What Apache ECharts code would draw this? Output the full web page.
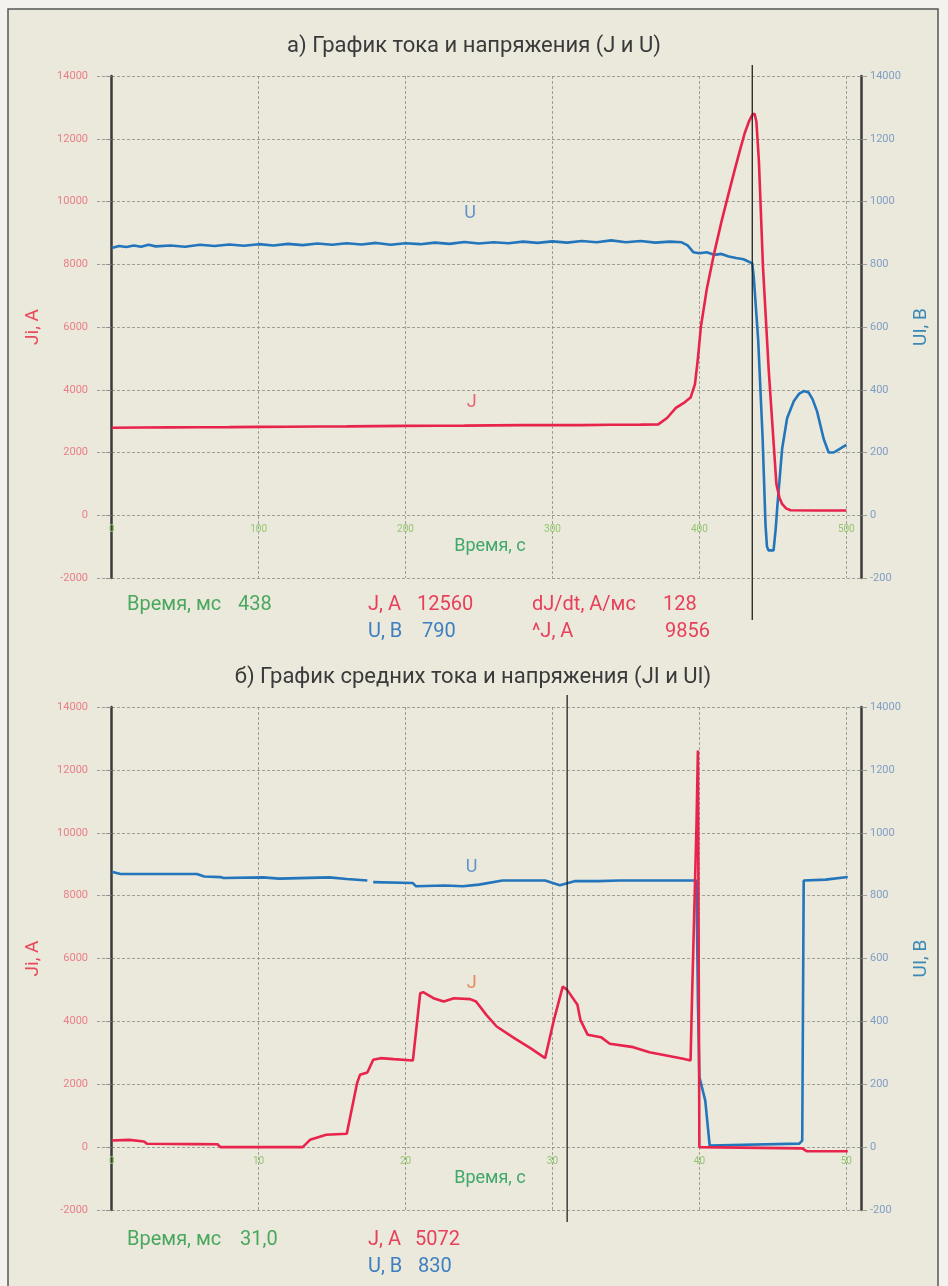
<!DOCTYPE html>
<html><head><meta charset="utf-8">
<script src="https://cdn.jsdelivr.net/npm/echarts@6/dist/echarts.min.js"></script>
<style>html,body{margin:0;padding:0;background:#f3f2ee;}#c{width:948px;height:1286px;}</style>
</head><body><div id="c"></div>
<script>
// ---------- DATA ----------
const topXTicks = [0, 100, 200, 300, 400, 500];
const bottomXTicks = [0, 10, 20, 30, 40, 50];
const leftTickValues = [-2000, 0, 2000, 4000, 6000, 8000, 10000, 12000, 14000];
const leftTickLabels = ['-2000', '0', '2000', '4000', '6000', '8000', '10000', '12000', '14000'];
const rightTickValues = [-200, 0, 200, 400, 600, 800, 1000, 1200, 1400];
const rightTickLabels = ['-200', '0', '200', '400', '600', '800', '1000', '1200', '14000'];

// Top chart: current J (A) and voltage U (V) vs time
const topJ = [[0,2790],[20,2795],[40,2800],[60,2805],[80,2810],[100,2818],[120,2822],[140,2828],[160,2833],[180,2842],[200,2848],[220,2853],[240,2858],[260,2866],[280,2872],[300,2878],[320,2872],[340,2884],[360,2888],[372,2895],[378,3100],[384,3420],[390,3600],[394,3750],[397,4180],[399,5000],[401,6000],[405,7200],[410,8340],[415,9350],[419,10090],[424,11000],[428,11700],[431,12200],[434,12580],[436,12760],[437.5,12800],[438.8,12550],[440.5,11300],[443.3,7900],[447.2,4620],[452.4,1000],[454.5,560],[456.3,360],[459,220],[462,160],[480,150],[500,150]];
const topU = [[0,852],[5,858],[10,855],[15,860],[20,856],[25,862],[30,857],[40,860],[50,856],[60,862],[70,858],[80,863],[90,859],[100,864],[110,860],[120,865],[130,861],[140,866],[150,862],[160,867],[170,863],[180,868],[190,862],[200,867],[210,864],[220,869],[230,865],[240,871],[250,866],[260,870],[270,867],[280,872],[290,868],[300,873],[310,869],[320,874],[330,870],[340,876],[350,870],[360,874],[370,869],[380,872],[388,870],[392,860],[396,838],[400,835],[405,838],[410,830],[415,833],[420,825],[425,820],[430,816],[436,803],[437,760],[440,560],[443,250],[445,-30],[446,-100],[447,-112],[450.5,-112],[452,-40],[453,25],[456.3,211],[459.7,309],[464.2,363],[468,388],[471,396],[474.4,391],[477,370],[480.1,331],[484.6,243],[488,200],[491.4,200],[495,210],[500,224]];
const topCursor = 436;
const topLabelsU = [['U', 244, 963]];
const topLabelsJ = [['J', 245, 3580]];

// Bottom chart: averaged current JI (A) and voltage UI (V) vs time
const bottomJ = [[0,210],[1.2,230],[2.2,180],[2.4,106],[5.8,95],[7.2,90],[7.4,0],[13.0,0],[13.5,233],[14.6,392],[16.0,424],[16.7,2035],[16.9,2300],[17.4,2374],[17.8,2777],[18.3,2830],[19.2,2798],[20.5,2756],[20.6,2780],[21.0,4897],[21.2,4929],[21.9,4738],[22.6,4632],[23.3,4738],[24.4,4707],[24.8,4632],[25.5,4208],[26.2,3837],[27.4,3466],[28.5,3148],[29.5,2830],[30.1,4049],[30.7,5108],[31.0,5002],[31.7,4526],[31.9,4049],[32.4,3572],[33.3,3498],[33.9,3288],[35.5,3180],[36.6,3021],[38.9,2810],[39.4,2757],[39.5,4770],[39.8,10176],[39.9,12615],[40.0,0],[47.0,-40],[47.3,-127],[50.1,-130]];
const bottomU = [[0,876],[0.6,869],[5.8,869],[6.3,861],[7.4,859],[7.6,856],[10.3,858],[11.4,854],[14.8,858],[16.0,853],[17.4,848],[17.6,'-'],[17.8,843],[20.5,840],[20.7,830],[22.7,832],[23.9,830],[25.0,835],[26.6,848],[29.5,848],[30.5,833],[31.5,846],[33.1,846],[34.6,848],[39.8,848],[39.9,467],[40.0,223],[40.4,148],[40.7,5],[46.8,11],[47.0,21],[47.1,848],[48.6,851],[50.1,859]];
const bottomCursor = 31.0;
const bottomLabelsU = [['U', 24.5, 888]];
const bottomLabelsJ = [['J', 24.5, 5200]];

// Titles and readouts (text)
const titleTop = 'а) График тока и напряжения (J и U)';
const titleBottom = 'б) График средних тока и напряжения (JI и UI)';
const readoutsTop = [
  ['Время, мс', '#4aa85e', 127, 605], ['438', '#4aa85e', 238, 605],
  ['J, A', '#e8405a', 368, 605], ['12560', '#e8405a', 417, 605],
  ['dJ/dt, A/мс', '#e8405a', 532, 605], ['128', '#e8405a', 663, 605],
  ['U, B', '#3d7fc0', 368, 632], ['790', '#3d7fc0', 422, 632],
  ['^J, A', '#e8405a', 532, 632], ['9856', '#e8405a', 665, 632]
];
const readoutsBottom = [
  ['Время, мс', '#4aa85e', 127, 1240], ['31,0', '#4aa85e', 240, 1240],
  ['J, A', '#e8405a', 368, 1240], ['5072', '#e8405a', 415, 1240],
  ['U, B', '#3d7fc0', 368, 1267], ['830', '#3d7fc0', 418, 1267]
];

// ---------- CHART ----------
const FONT = 'Roboto';
const J_COLOR = '#e8244c', U_COLOR = '#2376bb';
const chart = echarts.init(document.getElementById('c'), null, {renderer: 'canvas'});

function xAxisDef(grid, min, max, ticks) {
  return {
    type: 'value', gridIndex: grid, min: min, max: max, position: 'bottom', offset: -63,
    name: 'Время, с', nameLocation: 'middle', nameGap: 22,
    nameTextStyle: {color: '#3fa86a', fontSize: 18, fontFamily: FONT, padding: [0, 0, 0, 22]},
    axisLine: {show: false, onZero: false},
    axisTick: {show: false, customValues: ticks},
    axisLabel: {customValues: ticks, color: '#93c66e', fontSize: 10, fontFamily: FONT, margin: 9},
    splitLine: {show: true, lineStyle: {color: '#8a8a8a', width: 0.8, type: [3, 2]}}
  };
}
function leftY(grid) {
  return {
    type: 'value', gridIndex: grid, position: 'left', min: -2000, max: 14000, interval: 2000,
    name: 'Ji, A', nameLocation: 'middle', nameGap: 54, nameRotate: 90,
    nameTextStyle: {color: '#e84a5c', fontSize: 19, fontFamily: FONT},
    axisLine: {show: true, lineStyle: {color: '#3a3a3a', width: 2.5}},
    axisTick: {show: true, length: 6, lineStyle: {color: '#8a8a8a', width: 0.8}},
    axisLabel: {color: '#e98088', fontSize: 11, fontFamily: FONT, margin: 9,
      formatter: v => leftTickLabels[leftTickValues.indexOf(v)]},
    splitLine: {show: true, lineStyle: {color: '#8a8a8a', width: 0.8, type: [3, 2]}}
  };
}
function rightY(grid) {
  return {
    type: 'value', gridIndex: grid, position: 'right', min: -200, max: 1400, interval: 200,
    name: 'UI, B', nameLocation: 'middle', nameGap: 48, nameRotate: 90,
    nameTextStyle: {color: '#3a8ab4', fontSize: 19, fontFamily: FONT},
    axisLine: {show: true, lineStyle: {color: '#3a3a3a', width: 2.5}},
    axisTick: {show: true, length: 6, lineStyle: {color: '#8a8a8a', width: 0.8}},
    axisLabel: {color: '#7f9fc4', fontSize: 11, fontFamily: FONT, margin: 9,
      formatter: v => rightTickLabels[rightTickValues.indexOf(v)]},
    splitLine: {show: false}
  };
}
function hiddenX(grid, min, max) {
  return {type: 'value', gridIndex: grid, min: min, max: max, show: false};
}
function hiddenY(grid) {
  return {type: 'value', gridIndex: grid, min: 0, max: 1, show: false};
}
function lineSeries(data, x, y, color) {
  return {type: 'line', data: data, xAxisIndex: x, yAxisIndex: y, showSymbol: false, symbol: 'none',
    lineStyle: {color: color, width: 2.6}, itemStyle: {color: color}, animation: false, connectNulls: false, z: 3};
}
function labelSeries(items, x, y, color) {
  return {type: 'scatter', xAxisIndex: x, yAxisIndex: y, symbolSize: 1, itemStyle: {color: 'rgba(0,0,0,0)'},
    data: items.map(a => ({name: a[0], value: [a[1], a[2]]})),
    label: {show: true, position: 'inside', formatter: p => p.name, color: color, fontSize: 18, fontFamily: FONT},
    silent: true, animation: false, z: 4};
}
function cursorSeries(val, x, y) {
  return {type: 'line', data: [[val, 0], [val, 1]], xAxisIndex: x, yAxisIndex: y, symbol: 'none',
    lineStyle: {color: '#222', width: 1.3}, animation: false, z: 5};
}

const graphics = [
  {type: 'rect', shape: {x: 8, y: 9, width: 930, height: 1290}, style: {fill: '#ebe8dc', stroke: '#555', lineWidth: 1.5}, z: -10, silent: true},
  {type: 'text', x: 474, y: 46, style: {text: titleTop, fill: '#3a3a3a', fontSize: 22, fontFamily: FONT, align: 'center', verticalAlign: 'middle'}},
  {type: 'text', x: 473, y: 677, style: {text: titleBottom, fill: '#3a3a3a', fontSize: 22, fontFamily: FONT, align: 'center', verticalAlign: 'middle'}}
];
readoutsTop.concat(readoutsBottom).forEach(r => graphics.push(
  {type: 'text', x: r[2], y: r[3], style: {text: r[0], fill: r[1], fontSize: 20, fontFamily: FONT, align: 'left', verticalAlign: 'middle'}}
));

const option = {
  backgroundColor: 'transparent',
  animation: false,
  graphic: graphics,
  grid: [
    {left: 97, right: 87, top: 76, bottom: 708, containLabel: false},
    {left: 97, right: 87, top: 707, bottom: 76, containLabel: false},
    {left: 97, right: 87, top: 65, bottom: 666, containLabel: false},
    {left: 97, right: 87, top: 695, bottom: 64, containLabel: false}
  ],
  xAxis: [
    xAxisDef(0, -10, 510, topXTicks),
    xAxisDef(1, -1, 51, bottomXTicks),
    hiddenX(2, -10, 510),
    hiddenX(3, -1, 51)
  ],
  yAxis: [leftY(0), rightY(0), leftY(1), rightY(1), hiddenY(2), hiddenY(3)],
  series: [
    lineSeries(topU, 0, 1, U_COLOR),
    lineSeries(topJ, 0, 0, J_COLOR),
    labelSeries(topLabelsU, 0, 1, '#3d80c0'),
    labelSeries(topLabelsJ, 0, 0, '#e8405a'),
    lineSeries(bottomU, 1, 3, U_COLOR),
    lineSeries(bottomJ, 1, 2, J_COLOR),
    labelSeries(bottomLabelsU, 1, 3, '#3d80c0'),
    labelSeries(bottomLabelsJ, 1, 2, '#e8703e'),
    cursorSeries(topCursor, 2, 4),
    cursorSeries(bottomCursor, 3, 5)
  ]
};
chart.setOption(option);
</script>
</body></html>
